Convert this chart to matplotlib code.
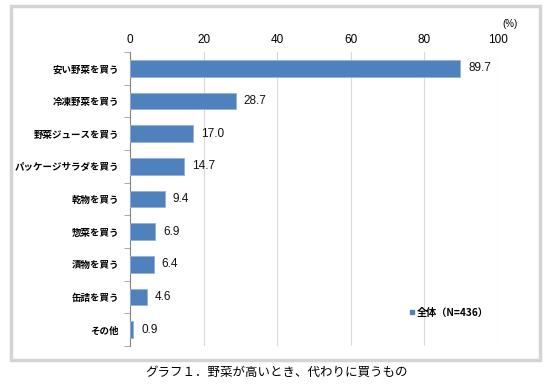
import matplotlib
matplotlib.use("Agg")
import matplotlib.pyplot as plt
from matplotlib.patches import Rectangle
from matplotlib.lines import Line2D

plt.rcParams['font.family'] = ['Liberation Sans', 'Noto Sans CJK JP', 'DejaVu Sans']

CATS = ["安い野菜を買う", "冷凍野菜を買う", "野菜ジュースを買う", "パッケージサラダを買う",
        "乾物を買う", "惣菜を買う", "漬物を買う", "缶詰を買う", "その他"]
VALS = [89.7, 28.7, 17.0, 14.7, 9.4, 6.9, 6.4, 4.6, 0.9]
XTICKS = [0, 20, 40, 60, 80, 100]
SERIES = "全体（N=436）"
CAPTION = "グラフ１．野菜が高いとき、代わりに買うもの"
BAR = "#4f81bd"
JP = ['Noto Sans CJK JP']

fig = plt.figure(figsize=(5.5, 3.9), dpi=100)
# outer frame
fig.patches.append(Rectangle((11/550, 1-360/390), 529/550, 354/390, transform=fig.transFigure,
                             fill=False, edgecolor="#d4d4d4", lw=2.5))
ax = fig.add_axes([130/550, 1-346/390, 368/550, 294/390])
y = list(range(len(CATS)))
ax.barh(y, VALS, height=0.52, color=BAR, edgecolor="#95b3d7", lw=0.6, zorder=3)
for yi, v in zip(y, VALS):
    ax.text(v + 2.2, yi, f"{v:.1f}", va="center", ha="left", fontsize=8.5, color="#111111")
ax.set_ylim(len(CATS) - 0.5, -0.5)
ax.set_xlim(0, 100)
ax.set_xticks(XTICKS)
ax.xaxis.tick_top()
ax.tick_params(axis="x", length=0, labelsize=8.5, pad=4)
ax.set_yticks(y)
ax.set_yticklabels(CATS, fontsize=6.8, fontweight="bold", family=JP)
ax.tick_params(axis="y", length=0, pad=8)
ax.set_yticks([i + 0.5 for i in range(-1, len(CATS))], minor=True)
ax.tick_params(axis="y", which="minor", length=4, color="#999999", width=0.6)
ax.grid(axis="x", color="#d9d9d9", lw=0.8, zorder=0)
for s in ["top", "right", "bottom"]:
    ax.spines[s].set_visible(False)
ax.spines["left"].set_color("#888888")
ax.spines["left"].set_linewidth(0.8)
fig.text(510/550, 1-24/390, "(%)", fontsize=7, ha="center", va="center")
handle = Line2D([], [], ls="none", marker="s", markersize=3.5, color=BAR)
ax.legend([handle], [SERIES], loc="lower right", bbox_to_anchor=(1.0, 0.065), frameon=False,
          handlelength=0.5, handletextpad=0.2,
          prop={'family': JP, 'weight': 'bold', 'size': 7.3})
fig.text(277/550, 1-372/390, CAPTION, fontsize=9, ha="center", va="center", family=JP)
fig.savefig("out.png", dpi=100)
